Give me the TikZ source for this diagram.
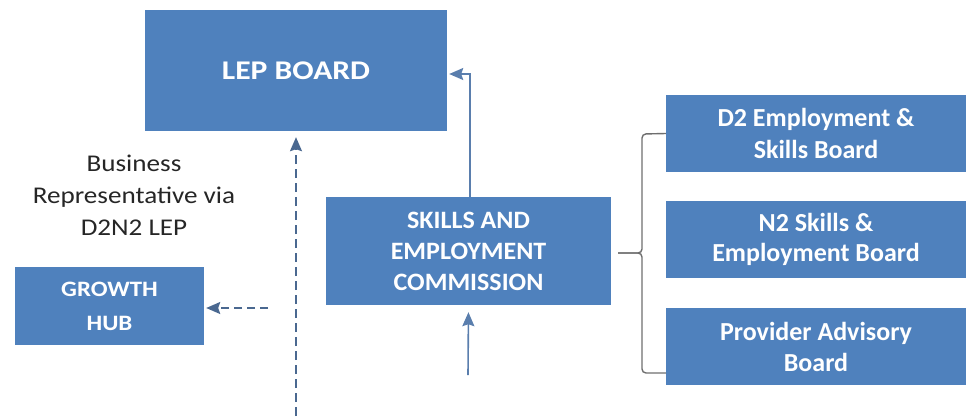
\documentclass[tikz,border=0pt]{standalone}
\usepackage{fontspec}
\setmainfont{Carlito}
\newfontfamily\lepfont[FakeStretch=1.17]{Carlito}
\newfontfamily\leftfont[FakeStretch=1.13]{Carlito}
\newfontfamily\secfont[FakeStretch=1.04]{Carlito}
\usetikzlibrary{arrows.meta,calc}
\definecolor{boxblue}{HTML}{4F81BD}
\definecolor{arrowblue}{HTML}{5A7EAD}
\definecolor{dashblue}{HTML}{4A6890}
\definecolor{bracegray}{HTML}{6E6E6E}
\definecolor{txtgray}{HTML}{262626}
\begin{document}
\begin{tikzpicture}[x=1pt,y=-1pt,
  box/.style={fill=boxblue, draw=none, text=white, align=center, inner sep=0pt},
  tip/.style={-{Stealth[length=14pt,width=12pt,inset=2pt]}},
  solidarrow/.style={draw=arrowblue, line width=1.6pt, tip},
  dasharrow/.style={draw=dashblue, line width=1.6pt, dash pattern=on 9pt off 5pt, tip},
  bracket/.style={draw=bracegray, line width=1.4pt, rounded corners=4pt},
]
\useasboundingbox (0,0) rectangle (966,416);

% boxes
\node[box, minimum width=302pt, minimum height=121pt,
  font={\lepfont\bfseries\fontsize{27}{32}\selectfont}] (LEP) at (296,70.5) {LEP BOARD};
\node[box, minimum width=189pt, minimum height=78pt,
  font={\leftfont\bfseries\fontsize{22}{34}\selectfont}] (GH) at (109.5,306) {GROWTH\\HUB};
\node[box, minimum width=285pt, minimum height=108pt,
  font={\secfont\bfseries\fontsize{25}{31}\selectfont}] (SEC) at (468.5,251)
  {SKILLS AND\\EMPLOYMENT\\COMMISSION};
\node[box, minimum width=300pt, minimum height=77pt,
  font={\bfseries\fontsize{26}{32}\selectfont}] (D2) at (816,133.5)
  {D2 Employment \&\\Skills Board};
\node[box, minimum width=300pt, minimum height=77pt,
  font={\bfseries\fontsize{26}{30}\selectfont}] (N2) at (816,239.5)
  {N2 Skills \&\\Employment Board};
\node[box, minimum width=300pt, minimum height=77pt,
  font={\bfseries\fontsize{26}{31}\selectfont}] (PAB) at (816,346.5)
  {Provider Advisory\\Board};

% label
\node[text=txtgray, align=center, inner sep=0pt,
  font={\leftfont\fontsize{24}{32}\selectfont}] (biz) at (134,195)
  {Business\\Representative via\\D2N2 LEP};

% coordinates for free ends
\coordinate (dashbottom) at (296,416);
\coordinate (ghstart) at (268,308);
\coordinate (secbottom) at (468,375);
\coordinate (bracetip) at (618,253);
\coordinate (bracebot) at (666,373);

% connectors
\draw[solidarrow, shorten >=2pt] ([xshift=1.5pt]SEC.north) |- ([yshift=-3.5pt]LEP.east);
\draw[dasharrow, shorten >=6pt] (dashbottom) -- (LEP.south);
\draw[dasharrow, dash pattern=on 8pt off 5pt, shorten >=2pt] (ghstart) -- (GH.east |- ghstart);
\draw[solidarrow, shorten >=7pt] (secbottom) -- (SEC.south);

% bracket
\draw[bracket] (D2.west) -- (642,134) -- (642,253) -- (bracetip);
\draw[bracket] (bracebot) -- (642,373) -- (642,253) -- (bracetip);
\end{tikzpicture}
\end{document}
